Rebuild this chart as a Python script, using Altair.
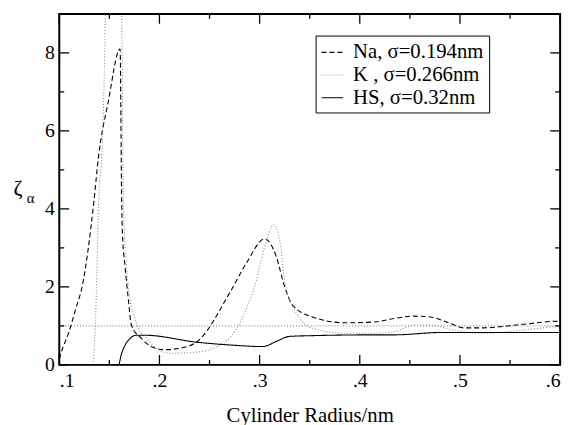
import altair as alt
import pandas as pd

# ---- data ----
na_x = [0.100, 0.1017, 0.1098, 0.116, 0.123, 0.1344, 0.139, 0.149, 0.1607,
        0.1623, 0.163, 0.1656, 0.1689, 0.172, 0.182, 0.1918, 0.205, 0.2214, 0.2378,
        0.2706, 0.287, 0.305, 0.3165, 0.3247, 0.333, 0.3527, 0.3854, 0.4148,
        0.4346, 0.454, 0.47, 0.4905, 0.5035, 0.523, 0.5626, 0.5987, 0.6]
na_y = [0.15, 0.3, 0.85, 1.4, 2.03, 4.15, 5.3, 6.76, 8.1,
        4.2, 3.4, 2.54, 1.7, 1.02, 0.68, 0.47, 0.39, 0.43, 0.6,
        1.87, 2.62, 3.23, 2.79, 2.03, 1.53, 1.23, 1.08, 1.1,
        1.19, 1.25, 1.23, 1.06, 0.95, 0.95, 1.04, 1.12, 1.12]

k_x = [0.1338, 0.136, 0.1394, 0.1433, 0.146, 0.1465, 0.1615, 0.1623, 0.164, 0.1672,
       0.1706, 0.1755, 0.1787, 0.1886, 0.1984, 0.2115, 0.2378, 0.2575, 0.2772,
       0.2952, 0.3083, 0.3139, 0.3215, 0.3247, 0.336, 0.3527, 0.3854, 0.4148,
       0.4346, 0.454, 0.47, 0.494, 0.523, 0.5626, 0.5987, 0.6]
k_y = [0.0, 0.97, 4.2, 5.9, 9.0, 10.0, 10.0, 9.0, 4.2, 2.5,
       1.7, 1.2, 0.95, 0.65, 0.39, 0.3, 0.33, 0.47, 0.94,
       2.03, 3.3, 3.6, 2.96, 2.2, 1.36, 0.94, 0.81, 0.81,
       0.85, 1.02, 1.02, 0.89, 0.81, 0.89, 0.98, 0.98]

hs_x = [0.1597, 0.1615, 0.1656, 0.170, 0.177, 0.1853, 0.2378, 0.2706, 0.3034, 0.3165,
        0.3296, 0.3527, 0.4148, 0.4346, 0.4806, 0.5987, 0.6]
hs_y = [0.0, 0.22, 0.5, 0.66, 0.76, 0.76, 0.58, 0.51, 0.47, 0.6,
        0.73, 0.75, 0.77, 0.77, 0.83, 0.83, 0.83]

series_names = ["Na, σ=0.194nm", "K , σ=0.266nm", "HS, σ=0.32nm"]
series_colors = ["black", "#8a8a8a", "black"]
series_dash = [[5, 3], [1, 2], [1, 0]]
series_width = [1.1, 1.1, 1.6]

ref_level = [1.0]
x_major = [0.1, 0.2, 0.3, 0.4, 0.5, 0.6]
x_minor = [0.15, 0.25, 0.35, 0.45, 0.55]
y_major = [0, 2, 4, 6, 8]
y_minor = [1, 3, 5, 7]

W, H = 508, 356
FONT = "Times New Roman, Liberation Serif, serif"

rows = []
for name, xv, yv in zip(series_names, [na_x, k_x, hs_x], [na_y, k_y, hs_y]):
    for i, (a, b) in enumerate(zip(xv, yv)):
        rows.append({"series": name, "r": a, "z": b, "order": i})
df = pd.DataFrame(rows)

xs = alt.Scale(domain=[0.1, 0.6], nice=False, zero=False)
ys = alt.Scale(domain=[0, 9], nice=False, zero=False)

lines = alt.Chart(df).mark_line(clip=True, interpolate="monotone").encode(
    x=alt.X("r:Q", scale=xs,
            axis=alt.Axis(values=x_major, ticks=False, domain=False, grid=False,
                          labelExpr="substring(format(datum.value, '.1f'), 1)",
                          labelFont=FONT, labelFontSize=20, labelColor="black",
                          labelPadding=6, title="Cylinder Radius/nm",
                          titleFont=FONT, titleFontSize=21, titleFontWeight="normal",
                          titleColor="black", titlePadding=14)),
    y=alt.Y("z:Q", scale=ys,
            axis=alt.Axis(values=y_major, ticks=False, domain=False, grid=False,
                          labelFont=FONT, labelFontSize=20, labelColor="black",
                          labelPadding=5, title=None)),
    order="order:Q",
    color=alt.Color("series:N", scale=alt.Scale(domain=series_names, range=series_colors),
                    legend=alt.Legend(title=None, orient="none", legendX=260, legendY=22,
                                      symbolType="stroke", symbolSize=480,
                                      labelFont=FONT, labelFontSize=21, labelColor="black",
                                      strokeColor="black", fillColor="white",
                                      padding=5, rowPadding=1, labelOffset=9)),
    strokeDash=alt.StrokeDash("series:N", scale=alt.Scale(domain=series_names, range=series_dash)),
    strokeWidth=alt.StrokeWidth("series:N", scale=alt.Scale(domain=series_names, range=series_width)),
)

ref = alt.Chart(pd.DataFrame({"z": ref_level})).mark_rule(
    color="#8a8a8a", strokeDash=[1, 2], strokeWidth=1.1).encode(y=alt.Y("z:Q", scale=ys))

def xticks(vals, length, top):
    d = pd.DataFrame({"r": vals})
    if top:
        return alt.Chart(d).mark_rule(color="black", strokeWidth=1.3).encode(
            x=alt.X("r:Q", scale=xs), y=alt.value(0), y2=alt.value(length))
    return alt.Chart(d).mark_rule(color="black", strokeWidth=1.3).encode(
        x=alt.X("r:Q", scale=xs), y=alt.value(H), y2=alt.value(H - length))

def yticks(vals, length, right):
    d = pd.DataFrame({"z": vals})
    if right:
        return alt.Chart(d).mark_rule(color="black", strokeWidth=1.3).encode(
            y=alt.Y("z:Q", scale=ys), x=alt.value(W), x2=alt.value(W - length))
    return alt.Chart(d).mark_rule(color="black", strokeWidth=1.3).encode(
        y=alt.Y("z:Q", scale=ys), x=alt.value(0), x2=alt.value(length))

ticks = [xticks(x_major, 10, False), xticks(x_minor, 5, False),
         xticks(x_major, 10, True), xticks(x_minor, 5, True),
         yticks(y_major, 10, False), yticks(y_minor, 5, False),
         yticks(y_major, 10, True), yticks(y_minor, 5, True)]

frame = alt.Chart(pd.DataFrame({"f": [0]})).mark_rect(
    fill=None, fillOpacity=0, stroke="black", strokeWidth=2).encode(
    x=alt.value(0), x2=alt.value(W), y=alt.value(0), y2=alt.value(H))

lab = pd.DataFrame({"t": ["ζ"]})
zeta = alt.Chart(lab).mark_text(font=FONT, fontSize=22, align="center", baseline="alphabetic",
                                color="black").encode(text="t:N", x=alt.value(-42), y=alt.value(184))
lab2 = pd.DataFrame({"t": ["α"]})
alpha = alt.Chart(lab2).mark_text(font=FONT, fontSize=15, align="left", baseline="alphabetic",
                                  color="black").encode(text="t:N", x=alt.value(-33), y=alt.value(192))

chart = alt.layer(ref, lines, *ticks, frame, zeta, alpha).properties(
    width=W, height=H,
    autosize=alt.AutoSizeParams(type="none"),
    padding={"left": 52, "top": 3, "right": 9, "bottom": 58},
).configure_view(strokeWidth=0).configure(background="white")

chart.save("out.html", embed_options={"renderer": "svg", "actions": False})
